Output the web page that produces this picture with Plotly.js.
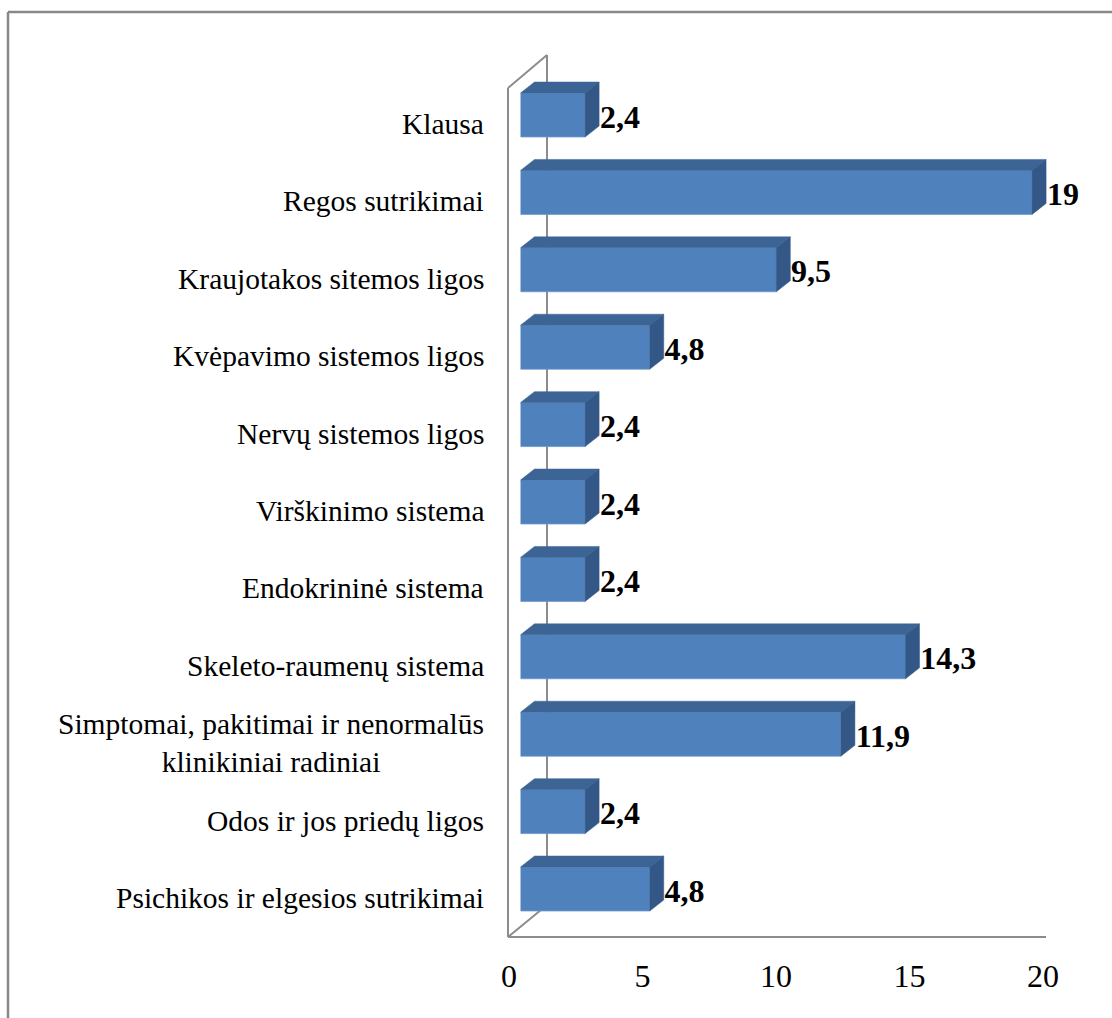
<!DOCTYPE html>
<html>
<head>
<meta charset="utf-8">
<script src="https://cdn.plot.ly/plotly-3.0.1.min.js"></script>
<style>html,body{margin:0;padding:0;background:#fff;}#chart{width:1112px;height:1018px;}</style>
</head>
<body>
<div id="chart"></div>
<script>
// Data (top-to-bottom order as shown)
const categories = [
  'Klausa',
  'Regos sutrikimai',
  'Kraujotakos sitemos ligos',
  'Kvėpavimo sistemos ligos',
  'Nervų sistemos ligos',
  'Virškinimo sistema',
  'Endokrininė sistema',
  'Skeleto-raumenų sistema',
  'Simptomai, pakitimai ir nenormalūs<br>klinikiniai radiniai',
  'Odos ir jos priedų ligos',
  'Psichikos ir elgesios sutrikimai'
];
const values = [2.4, 19, 9.5, 4.8, 2.4, 2.4, 2.4, 14.3, 11.9, 2.4, 4.8];
const tickValues = [0, 5, 10, 15, 20];

const W = 1112, H = 1018;
const px = v => v / W;
const py = v => 1 - v / H;

const n = categories.length;
const pos = categories.map((c, i) => n - 1 - i);
const barW = 0.568, hw = barW / 2;
const dx = 0.52, dy = 0.142;   // 3D depth in data units
const FRONT = '#4F81BD', TOP = '#3C6595', SIDE = '#335887';
const fmt = v => String(v).replace('.', ',');
const SERIF = 'Liberation Serif, Times New Roman, serif';

const traces = [];
// invisible trace so the front (tick) axis is drawn
traces.push({type: 'scatter', mode: 'markers', x: [0], y: [0], xaxis: 'x', yaxis: 'y',
  marker: {opacity: 0, size: 1}, hoverinfo: 'skip'});
traces.push({
  type: 'bar', orientation: 'h', x: values, y: pos, width: barW,
  xaxis: 'x2', yaxis: 'y',
  marker: {color: FRONT, line: {width: 0.8, color: '#6d97cc'}},
  hoverinfo: 'skip'
});
values.forEach((v, i) => {
  const c = pos[i];
  traces.push({
    type: 'scatter', mode: 'lines', xaxis: 'x2', yaxis: 'y',
    x: [0, v, v + dx, dx, 0], y: [c + hw, c + hw, c + hw + dy, c + hw + dy, c + hw],
    fill: 'toself', fillcolor: TOP, line: {width: 0.5, color: TOP}, hoverinfo: 'skip'
  });
  traces.push({
    type: 'scatter', mode: 'lines', xaxis: 'x2', yaxis: 'y',
    x: [v, v, v + dx, v + dx, v], y: [c - hw, c + hw, c + hw + dy, c - hw + dy, c - hw],
    fill: 'toself', fillcolor: SIDE, line: {width: 0.5, color: SIDE}, hoverinfo: 'skip'
  });
});
traces.push({
  type: 'scatter', mode: 'text', xaxis: 'x2', yaxis: 'y',
  x: values.map(v => v + dx + 0.03), y: pos.map(p => p - 0.06),
  text: values.map(fmt), textposition: 'middle right',
  textfont: {family: SERIF, size: 32, color: '#000', weight: 'bold'},
  hoverinfo: 'skip', cliponaxis: false
});

const lineCol = '#8c8c8c';
function seg(x0, y0, x1, y1, w, col) {
  return {type: 'line', xref: 'paper', yref: 'paper', x0: px(x0), y0: py(y0), x1: px(x1), y1: py(y1),
    line: {color: col || lineCol, width: w || 2}, layer: 'below'};
}
const shapes = [
  seg(508, 937, 1046, 937),
  seg(508, 88, 508, 937),
  seg(508, 88, 547, 55),
  seg(547, 55, 547, 905),
  seg(508, 937, 547, 905),
  seg(8, 12, 8, 1018, 2.5, '#888'),
  seg(8, 12, 1112, 12, 2.5, '#888')
];

const annotations = categories.map((c, i) => ({
  text: c, xref: 'paper', x: px(486), yref: 'y', y: pos[i], yshift: -9,
  xanchor: 'right', yanchor: 'middle', align: 'center', showarrow: false,
  font: {family: SERIF, size: 29.5, color: '#000'}
}));

const layout = {
  width: W, height: H,
  margin: {l: 0, r: 0, t: 0, b: 0},
  paper_bgcolor: '#fff', plot_bgcolor: 'rgba(0,0,0,0)',
  showlegend: false, hovermode: false,
  xaxis: {
    domain: [px(509), px(1043)], range: [0, 20], anchor: 'free', position: py(937),
    tickvals: tickValues, ticktext: tickValues.map(String), ticks: '', showgrid: false,
    zeroline: false, showline: false, ticklabelstandoff: 17,
    tickfont: {family: SERIF, size: 32, color: '#000'}
  },
  xaxis2: {
    domain: [px(520.5), px(1059)], range: [0, 20], anchor: 'y',
    visible: false, showgrid: false, zeroline: false
  },
  yaxis: {
    domain: [py(927.7), py(76.3)], range: [-0.5, n - 0.5],
    showticklabels: false, ticks: '', showgrid: false, zeroline: false, showline: false
  },
  shapes: shapes,
  annotations: annotations
};

Plotly.newPlot('chart', traces, layout, {staticPlot: true, displayModeBar: false});
</script>
</body>
</html>
